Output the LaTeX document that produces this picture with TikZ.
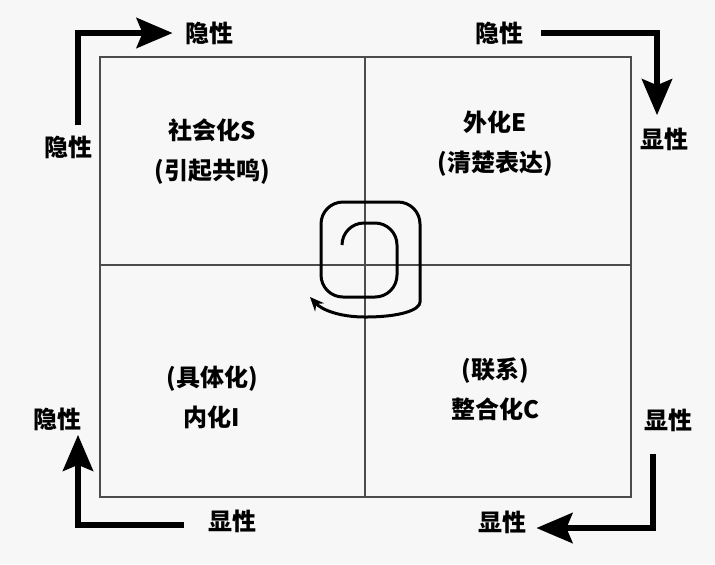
\documentclass[tikz,border=0pt]{standalone}
\usepackage{fontspec}
\newfontfamily\cjk{Noto Sans CJK SC}
\usetikzlibrary{arrows.meta,positioning}

\begin{document}
\begin{tikzpicture}[
  x=0.5pt, y=-0.5pt,
  >={Stealth[length=18pt,width=15pt,inset=3pt]},
  every node/.style={font=\cjk\bfseries\fontsize{12}{20}\selectfont,inner sep=2pt},
  quad/.style={align=center},
  flow/.style={->,line width=3pt},
  frame/.style={black!70,line width=1pt},
  ]
  \fill[black!3] (0,0) rectangle (715,564);
  % frame of the four quadrants
  \coordinate (nw) at (100,57);
  \coordinate (se) at (631,497);
  \coordinate (n) at (365,57);
  \coordinate (s) at (365,497);
  \coordinate (w) at (100,265);
  \coordinate (e) at (631,265);
  \draw[frame] (nw) rectangle (se);
  \draw[frame,line width=0.7pt] (n) -- (s);
  \draw[frame,line width=0.7pt] (w) -- (e);

  \node[quad] (S) at (212,152) {社会化S\\(引起共鸣)};
  \node[quad] (E) at (495,144) {外化E\\(清楚表达)};
  \node[quad] (I) at (212,397) {(具体化)\\内化I};
  \node[quad] (C) at (495,389) {(联系)\\整合化C};

  % labels round the frame
  \node (tlleft) at (68,147) {隐性};
  \node (tltop) at (209,33) {隐性};
  \node (trtop) at (499,33) {隐性};
  \node (trright) at (664,139) {显性};
  \node (brright) at (668,420) {显性};
  \node (brbottom) at (502,522) {显性};
  \node (blbottom) at (232,521) {显性};
  \node (blleft) at (57,419) {隐性};

  \draw[flow] ([xshift=5pt,yshift=3pt]tlleft.north) |- ([xshift=-4pt]tltop.west);
  \draw[flow] ([xshift=7pt]trtop.east) -| ([xshift=-3.5pt,yshift=4pt]trright.north);
  \draw[flow] ([xshift=-7.5pt,yshift=-9pt]brright.south) |- ([xshift=3pt,yshift=-3pt]brbottom.east);
  \draw[flow] ([xshift=-10pt,yshift=-2pt]blbottom.west) -| ([xshift=10.5pt]blleft.south);

  % spiral
  \draw[line width=1.5pt,rounded corners=11pt,-{Stealth[length=7pt,width=6pt]}]
    (342,245) -- (342,223) -- (397,223) -- (397,297) -- (321,297)
    -- (321,202) -- (420,202) -- (420,280) [sharp corners]
    .. controls (420,310) and (400,317) .. (365,317)
    .. controls (340,317) and (322,310) .. (310,297);
\end{tikzpicture}
\end{document}
